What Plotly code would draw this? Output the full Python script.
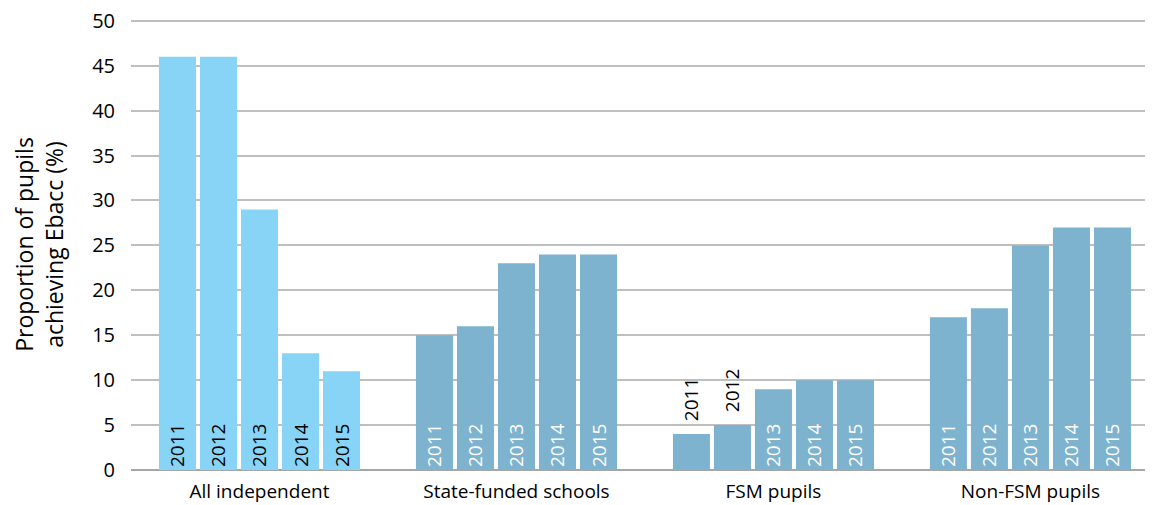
import plotly.graph_objects as go

categories = ["All independent", "State-funded schools", "FSM pupils", "Non-FSM pupils"]
years = ["2011", "2012", "2013", "2014", "2015"]
# values per year, one per category
values = {
    "2011": [46, 15, 4, 17],
    "2012": [46, 16, 5, 18],
    "2013": [29, 23, 9, 25],
    "2014": [13, 24, 10, 27],
    "2015": [11, 24, 10, 27],
}
y_ticks = [0, 5, 10, 15, 20, 25, 30, 35, 40, 45, 50]

light_blue = "#87D4F6"
steel_blue = "#7DB3CF"
MIN_INSIDE = 6  # bars shorter than this get their label above
PAD = "\u00a0\u00a0"

fig = go.Figure()
for yr in years:
    vals = values[yr]
    colors = [light_blue if c == "All independent" else steel_blue for c in categories]
    positions = ["inside" if v >= MIN_INSIDE else "outside" for v in vals]
    texts = [yr if v >= MIN_INSIDE else PAD + yr for v in vals]
    tcolors = []
    for c, v in zip(categories, vals):
        if c == "All independent" or v < MIN_INSIDE:
            tcolors.append("#000000")
        else:
            tcolors.append("#FFFFFF")
    fig.add_trace(go.Bar(
        x=categories, y=vals, name=yr,
        marker=dict(color=colors, line=dict(width=0)),
        text=texts,
        textposition=positions,
        insidetextanchor="start",
        textangle=-90,
        constraintext="none",
        textfont=dict(color=tcolors, size=19, family="Open Sans"),
        cliponaxis=False,
        hoverinfo="skip",
    ))

# page body has an 8px default margin, so offsets compensate for it
fig.update_layout(
    width=1153, height=505,
    barmode="group", bargap=0.202, bargroupgap=0.0976,
    showlegend=False,
    plot_bgcolor="white", paper_bgcolor="white",
    margin=dict(l=123, r=0, t=11, b=43, autoexpand=False),
    font=dict(family="Open Sans", size=19, color="#000000"),
    uniformtext=dict(mode=False),
)
fig.update_xaxes(
    range=[-0.5, 3.508], automargin=False,
    showgrid=False, showline=False, ticks="",
    ticklabelstandoff=8,
    tickfont=dict(size=19),
)
fig.update_yaxes(
    range=[0, 50.2], tickvals=y_ticks, automargin=True,
    showgrid=True, gridcolor="#BFBFBF", gridwidth=2,
    zeroline=True, zerolinecolor="#A6A6A6", zerolinewidth=2,
    ticks="", ticklabelstandoff=15, ticklabeloverflow="allow",
    tickfont=dict(size=20),
    title=dict(text="Proportion of pupils<br>achieving Ebacc (%)", font=dict(size=23), standoff=30),
)

fig.write_html("out.html")
